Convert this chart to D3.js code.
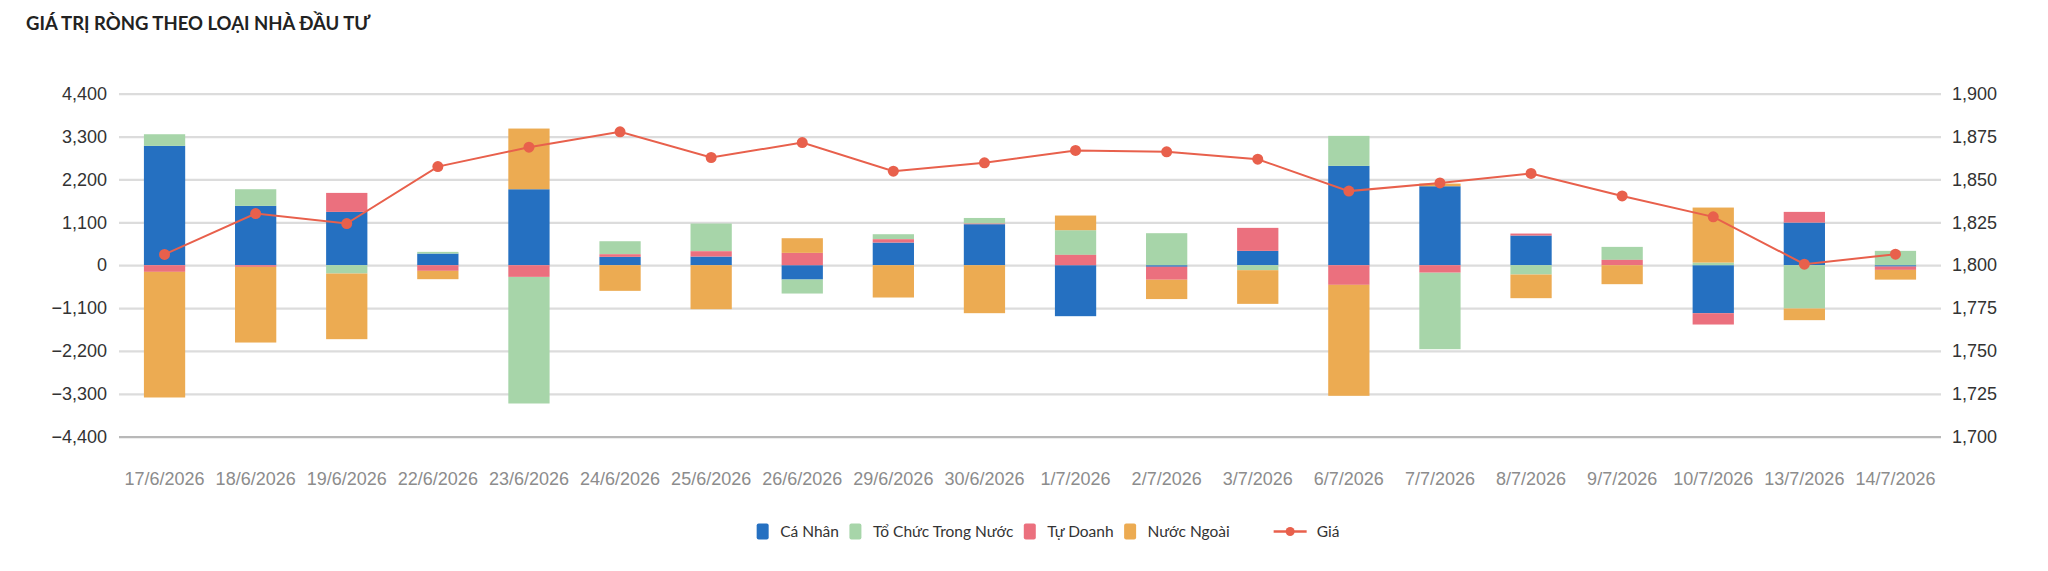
<!DOCTYPE html>
<html>
<head>
<meta charset="utf-8">
<script src="https://cdn.jsdelivr.net/npm/d3@7"></script>
<style>
  html, body { margin: 0; padding: 0; background: #fff; }
  svg { display: block; }
</style>
</head>
<body>
<svg id="chart" width="2048" height="571"></svg>
<script>
const dates = ["17/6/2026","18/6/2026","19/6/2026","22/6/2026","23/6/2026","24/6/2026","25/6/2026","26/6/2026","29/6/2026","30/6/2026","1/7/2026","2/7/2026","3/7/2026","6/7/2026","7/7/2026","8/7/2026","9/7/2026","10/7/2026","13/7/2026","14/7/2026"];
const caNhan    = [3061, 1522, 1368, 299, 1949, 214, 222, -368, 581, 1052, -1308, -40, 368, 2548, 2026, 761, 0, -1231, 1094, -35];
const toChuc    = [299, 427, -214, 43, -3249, 333, 710, -359, 128, 145, 633, 821, -128, 770, -1967, -239, 333, 68, -1111, 368];
const tuDoanh   = [-171, -43, 487, -145, -299, 68, 137, 316, 86, 15, 265, -333, 590, -504, -188, 51, 137, -291, 274, -85];
const nuocNgoai = [-3223, -1941, -1684, -214, 1557, -658, -1129, 376, -829, -1231, 376, -496, -864, -2847, 68, -607, -487, 1411, -299, -250];
const gia       = [1806.3, 1830.1, 1824.3, 1857.5, 1868.8, 1877.8, 1862.8, 1871.5, 1854.8, 1859.7, 1866.9, 1866.1, 1861.8, 1843.2, 1848.0, 1853.5, 1840.4, 1828.2, 1800.6, 1806.4];
const seriesNames = ["Cá Nhân", "Tổ Chức Trong Nước", "Tự Doanh", "Nước Ngoài"];
const stackOrder = [0, 2, 1, 3];
const lineName = "Giá";
const leftTicks = [-4400, -3300, -2200, -1100, 0, 1100, 2200, 3300, 4400];
const rightTicks = [1700, 1725, 1750, 1775, 1800, 1825, 1850, 1875, 1900];
const titleText = "GIÁ TRỊ RÒNG THEO LOẠI NHÀ ĐẦU TƯ";

const colors = ["#2570C1", "#A7D5A9", "#EB707E", "#ECAB52"];
const lineColor = "#E8604C";

const svg = d3.select("#chart");
const L = 119, R = 1941, T = 93.7, B = 436.7;

const rows = dates.map((d, i) => ({
  date: d,
  [seriesNames[0]]: caNhan[i],
  [seriesNames[1]]: toChuc[i],
  [seriesNames[2]]: tuDoanh[i],
  [seriesNames[3]]: nuocNgoai[i]
}));

const x = d3.scaleBand().domain(dates).range([L, R]).paddingInner(0.547).paddingOuter(0.2735);
const yL = d3.scaleLinear().domain([-4400, 4400]).range([B, T]);
const yR = d3.scaleLinear().domain([1700, 1900]).range([B, T]);
const fmt = d3.format(",");

// title
svg.append("text")
  .attr("x", 26).attr("y", 30)
  .attr("font-family", "Lato, 'Noto Sans', sans-serif")
  .attr("font-weight", 700)
  .attr("font-size", 18.5)
  .attr("fill", "#222")
  .text(titleText);

// grid
const grid = svg.append("g").attr("transform", `translate(${L},0)`)
  .call(d3.axisLeft(yL).tickValues(leftTicks).tickSize(-(R - L)).tickFormat(""));
grid.select(".domain").remove();
grid.selectAll(".tick line").attr("stroke", "#dcdcdc").attr("stroke-width", 2.2);
grid.selectAll(".tick").filter(d => d === -4400).select("line").attr("stroke", "#b8b8b8");

// left axis
const ax = svg.append("g").attr("transform", `translate(${L},0)`)
  .call(d3.axisLeft(yL).tickValues(leftTicks).tickSize(0).tickPadding(12).tickFormat(fmt));
ax.select(".domain").remove();
ax.selectAll("text").attr("font-family", "'Liberation Sans', Arial, sans-serif").attr("font-size", 18).attr("fill", "#333");

// right axis
const ar = svg.append("g").attr("transform", `translate(${R},0)`)
  .call(d3.axisRight(yR).tickValues(rightTicks).tickSize(0).tickPadding(11).tickFormat(fmt));
ar.select(".domain").remove();
ar.selectAll("text").attr("font-family", "'Liberation Sans', Arial, sans-serif").attr("font-size", 18).attr("fill", "#333");

// x axis
const axb = svg.append("g").attr("transform", `translate(0,${B})`)
  .call(d3.axisBottom(x).tickSize(0).tickPadding(36));
axb.select(".domain").remove();
axb.selectAll("text").attr("font-family", "'Liberation Sans', Arial, sans-serif").attr("font-size", 18).attr("fill", "#8c8c8c");

// stacked bars (stack order differs from legend order, as in the source)
const stack = d3.stack().keys(seriesNames)
  .order(() => stackOrder)
  .offset(d3.stackOffsetDiverging)(rows);
svg.append("g").selectAll("g").data(stack).join("g")
  .attr("fill", (d, i) => colors[i])
  .selectAll("rect").data(d => d).join("rect")
  .attr("x", d => x(d.data.date))
  .attr("width", x.bandwidth())
  .attr("y", d => yL(Math.max(d[0], d[1])))
  .attr("height", d => Math.abs(yL(d[0]) - yL(d[1])));

// line
const line = d3.line().x((d, i) => x(dates[i]) + x.bandwidth() / 2).y(d => yR(d));
svg.append("path").datum(gia)
  .attr("fill", "none").attr("stroke", lineColor).attr("stroke-width", 2)
  .attr("d", line);
svg.append("g").selectAll("circle").data(gia).join("circle")
  .attr("cx", (d, i) => x(dates[i]) + x.bandwidth() / 2)
  .attr("cy", d => yR(d))
  .attr("r", 5.5)
  .attr("fill", lineColor);

// legend
const legY = 531.5;
const lg = svg.append("g");
const font = "Lato, 'Noto Sans', sans-serif";
let cx = 0;
seriesNames.forEach((n, i) => {
  const g = lg.append("g").attr("transform", `translate(${cx},0)`);
  g.append("rect").attr("x", 0).attr("y", legY - 8).attr("width", 12).attr("height", 16).attr("rx", 2).attr("fill", colors[i]);
  const t = g.append("text").attr("x", 23.5).attr("y", legY).attr("dy", "0.35em")
    .attr("font-family", font).attr("font-size", 15.5).attr("fill", "#333").text(n);
  cx += 23.5 + t.node().getComputedTextLength() + (i < seriesNames.length - 1 ? 10.5 : 0);
});
{
  const g = lg.append("g").attr("transform", `translate(${cx + 44},0)`);
  g.append("line").attr("x1", 0).attr("x2", 33).attr("y1", legY).attr("y2", legY).attr("stroke", lineColor).attr("stroke-width", 2.5);
  g.append("circle").attr("cx", 16.5).attr("cy", legY).attr("r", 4.5).attr("fill", lineColor);
  const t = g.append("text").attr("x", 43).attr("y", legY).attr("dy", "0.35em")
    .attr("font-family", font).attr("font-size", 15.5).attr("fill", "#333").text(lineName);
  cx += 44 + 43 + t.node().getComputedTextLength();
}
lg.attr("transform", `translate(${1048 - cx / 2},0)`);
</script>
</body>
</html>
